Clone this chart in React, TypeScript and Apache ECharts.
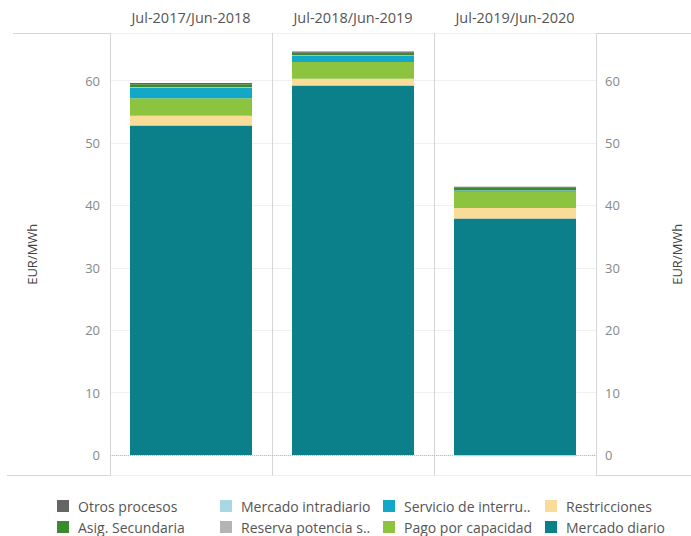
import React, { useEffect, useRef } from "react";
import * as echarts from "echarts";

const categories = ["Jul-2017/Jun-2018", "Jul-2018/Jun-2019", "Jul-2019/Jun-2020"];
const mercadoDiario = [52.8, 59.25, 37.9];
const restricciones = [1.6, 1.05, 1.7];
const pagoCapacidad = [2.8, 2.7, 2.6];
const servicioInterr = [1.7, 1.0, 0.2];
const reservaPotencia = [0.05, 0.05, 0.05];
const mercadoIntradiario = [0.05, 0.05, -0.2];
const asigSecundaria = [0.45, 0.4, 0.4];
const otrosProcesos = [0.2, 0.2, 0.15];

const legendRows = [
  ["Otros procesos", "Mercado intradiario", "Servicio de interru..", "Restricciones"],
  ["Asig. Secundaria", "Reserva potencia s..", "Pago por capacidad", "Mercado diario"],
];

const FONT = "Open Sans";

export default function App() {
  const ref = useRef<HTMLDivElement>(null);
  useEffect(() => {
    document.body.style.margin = "0";
    if (!ref.current) return;
    const chart = echarts.init(ref.current, null, { renderer: "svg" });
    const stackSeries = [
      { name: "Mercado diario", data: mercadoDiario, color: "#0b7f8a" },
      { name: "Restricciones", data: restricciones, color: "#f8dc98" },
      { name: "Pago por capacidad", data: pagoCapacidad, color: "#8cc43f" },
      { name: "Servicio de interru..", data: servicioInterr, color: "#14a8c8" },
      { name: "Reserva potencia s..", data: reservaPotencia, color: "#b4b4b4" },
      { name: "Mercado intradiario", data: mercadoIntradiario, color: "#a8d8e4" },
      { name: "Asig. Secundaria", data: asigSecundaria, color: "#3b8a2c" },
      { name: "Otros procesos", data: otrosProcesos, color: "#656565" },
    ];
    const legendLefts = [57, 220, 383, 545];
    const legendTops = [499, 520];
    const legends: any[] = [];
    legendRows.forEach((row, r) => {
      row.forEach((name, c) => {
        legends.push({
          orient: "horizontal",
          left: legendLefts[c],
          top: legendTops[r],
          itemWidth: 12,
          itemHeight: 12,
          padding: 0,
          icon: "rect",
          selectedMode: false,
          data: [name],
          textStyle: {
            color: "#555",
            fontSize: 14,
            lineHeight: 14,
            fontFamily: FONT,
            padding: [0, 0, 0, 4],
          },
        });
      });
    });
    const yAxisCommon = {
      type: "value",
      min: -3.3,
      max: 67.65,
      splitNumber: 7,
      axisLine: { show: false },
      axisTick: { show: false },
      name: "EUR/MWh",
      nameLocation: "middle",
      nameRotate: 90,
      nameTextStyle: { color: "#444", fontSize: 13, fontFamily: FONT },
    };
    chart.setOption({
      animation: false,
      textStyle: { fontFamily: FONT },
      grid: { left: 110, right: 91, top: 33, bottom: 60.5, containLabel: false },
      xAxis: {
        type: "category",
        data: categories,
        position: "top",
        axisLine: { show: false },
        axisTick: { show: false },
        axisLabel: { color: "#555", fontSize: 14.5, margin: 8, fontFamily: FONT },
        splitLine: { show: true, lineStyle: { color: "#d6d6d6", width: 1 } },
      },
      yAxis: [
        {
          ...yAxisCommon,
          position: "left",
          nameGap: 72,
          axisLabel: {
            color: "#888",
            fontSize: 13,
            margin: 10,
            showMinLabel: false,
            showMaxLabel: false,
            fontFamily: FONT,
          },
          splitLine: { show: true, lineStyle: { color: "#f0f0f0", width: 1 } },
        },
        {
          ...yAxisCommon,
          position: "right",
          nameGap: 74,
          nameRotate: 90,
          axisLabel: {
            color: "#888",
            fontSize: 13,
            margin: 9,
            showMinLabel: false,
            showMaxLabel: false,
            fontFamily: FONT,
          },
          splitLine: { show: false },
        },
      ],
      legend: legends,
      graphic: [
        {
          type: "line",
          shape: { x1: 13, y1: 33.5, x2: 691, y2: 33.5 },
          style: { stroke: "#d6d6d6", lineWidth: 1 },
        },
        {
          type: "line",
          shape: { x1: 7, y1: 475.5, x2: 691, y2: 475.5 },
          style: { stroke: "#d6d6d6", lineWidth: 1 },
        },
      ],
      series: stackSeries.map((s, i) => ({
        type: "bar",
        name: s.name,
        stack: "total",
        data: s.data,
        barWidth: 122,
        itemStyle: { color: s.color },
        emphasis: { disabled: true },
        ...(i === 0
          ? {
              markLine: {
                silent: true,
                symbol: "none",
                label: { show: false },
                lineStyle: { type: "dotted", color: "#bbbbbb", width: 1 },
                data: [{ yAxis: 0 }],
                z: 0,
              },
            }
          : {}),
      })),
    });
    return () => chart.dispose();
  }, []);
  return <div ref={ref} style={{ width: 691, height: 536 }} />;
}
